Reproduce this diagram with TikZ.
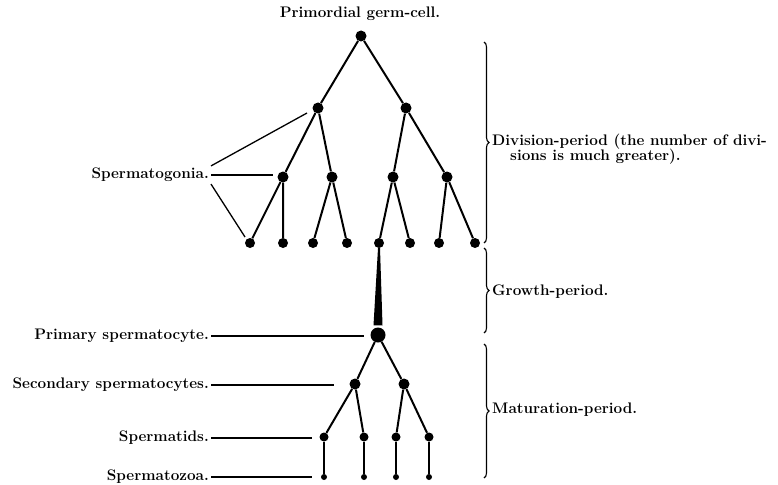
\documentclass[tikz,border=0pt]{standalone}
\usepackage{fontspec}
\usepackage{tikz}
\usetikzlibrary{calc,decorations.pathreplacing}

\begin{document}
\begin{tikzpicture}[x=1pt,y=-1pt,
    cell/.style={circle,fill=black,inner sep=0pt,minimum size=#1},
    cell/.default=11pt,
    branch/.style={line width=2pt},
    leader/.style={line width=1.3pt},
    lbl/.style={font=\fontsize{15.3}{15.5}\selectfont\bfseries,inner sep=2pt},
    period/.style={decorate,decoration={brace,amplitude=5pt,aspect=0.5},line width=1.1pt}]
  \useasboundingbox (0,0) rectangle (778,484);
  % Division-period cells
  \node[cell] (root) at (361,36) {};
  \node[cell] (a1) at (318,108) {};
  \node[cell] (a2) at (406,108) {};
  \node[cell] (b1) at (283,177) {};
  \node[cell] (b2) at (332,177) {};
  \node[cell] (b3) at (393,177) {};
  \node[cell] (b4) at (447,177) {};
  \foreach \i/\x in {1/250,2/283,3/313,4/347,5/379,6/410,7/439,8/475}
    \node[cell=10pt] (c\i) at (\x,243) {};
  \draw[branch] (root) -- (a1) (root) -- (a2);
  \draw[branch] (a1) -- (b1) (a1) -- (b2) (a2) -- (b3) (a2) -- (b4);
  \draw[branch] (b1) -- (c1) (b1) -- (c2) (b2) -- (c3) (b2) -- (c4)
                (b3) -- (c5) (b3) -- (c6) (b4) -- (c7) (b4) -- (c8);
  % Growth
  \node[cell=15pt] (prim) at (378,335) {};
  \fill ($(c5.south)+(-1,0)$) -- ($(c5.south)+(1,0)$)
    -- ($(prim.north)+(4.5,-2)$) -- ($(prim.north)+(-4.5,-2)$) -- cycle;
  % Maturation cells
  \node[cell] (s1) at (355,384) {};
  \node[cell] (s2) at (404,384) {};
  \foreach \i/\x in {1/324,2/364,3/396,4/429} {
    \node[cell=9pt] (t\i) at (\x,437) {};
    \node[cell=6pt] (z\i) at (\x,477) {};
  }
  \draw[branch] (prim) -- (s1) (prim) -- (s2);
  \draw[branch] (s1) -- (t1) (s1) -- (t2) (s2) -- (t3) (s2) -- (t4);
  \foreach \i in {1,...,4}
    \draw[line width=1.6pt] (t\i) -- (z\i);
  % Labels
  \node[lbl] (germ) at (360,14) {Primordial germ-cell.};
  \node[lbl,anchor=east] (gonia) at (211,175) {Spermatogonia.};
  \coordinate (g1) at (307,113);
  \coordinate (g2) at (273,175);
  \coordinate (g3) at (245,237);
  \draw[leader] (gonia.north east) -- (g1);
  \draw[leader] (gonia.east) -- (g2);
  \draw[leader] (gonia.south east) -- (g3);
  \node[lbl,anchor=east] (primlbl) at (211,336) {Primary spermatocyte.};
  \node[lbl,anchor=east] (seclbl) at (211,385) {Secondary spermatocytes.};
  \node[lbl,anchor=east] (tidlbl) at (211,438) {Spermatids.};
  \node[lbl,anchor=east] (zoalbl) at (211,477) {Spermatozoa.};
  \coordinate (p1) at (364,336);
  \coordinate (p2) at (334,385);
  \coordinate (p3) at (312,438);
  \coordinate (p4) at (312,477);
  \draw[leader] (primlbl) -- (p1);
  \draw[leader] (seclbl) -- (p2);
  \draw[leader] (tidlbl) -- (p3);
  \draw[leader] (zoalbl) -- (p4);
  % Periods
  \draw[period] (484,42) -- (484,243);
  \draw[period] (484,248) -- (484,333);
  \draw[period] (484,344) -- (484,478);
  \node[lbl,anchor=west,align=left] (divlbl) at (490,149)
    {Division-period (the number of divi-\\\hspace*{18pt}sions is much greater).};
  \node[lbl,anchor=west] (growlbl) at (490,292) {Growth-period.};
  \node[lbl,anchor=west] (matlbl) at (490,410) {Maturation-period.};
\end{tikzpicture}
\end{document}
